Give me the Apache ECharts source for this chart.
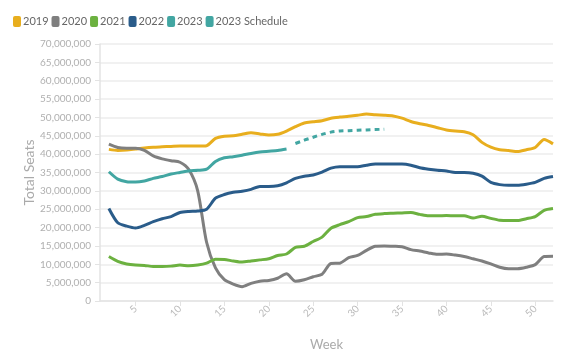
<!DOCTYPE html>
<html>
<head>
<meta charset="utf-8">
<script src="https://cdn.jsdelivr.net/npm/echarts@6/dist/echarts.min.js"></script>
<style>html,body{margin:0;padding:0;background:#fff}#c{width:567px;height:356px}</style>
</head>
<body>
<div id="c"></div>
<script>
// Weeks 1..52 (category axis)
const weeks = Array.from({length: 52}, (_, i) => String(i + 1));
// Values in millions of seats, starting at week 2
const firstWeek = 2;
const s2019 = [41.3,41.0,41.1,41.4,41.7,41.9,42.0,42.1,42.2,42.2,42.2,42.3,44.3,44.9,45.0,45.4,45.8,45.5,45.2,45.4,46.3,47.5,48.5,48.8,49.1,49.8,50.1,50.3,50.6,50.9,50.7,50.6,50.4,49.8,48.9,48.3,47.8,47.2,46.6,46.3,46.1,45.3,43.2,41.9,41.2,41.0,40.7,41.2,41.8,44.0,42.8];
const s2020 = [42.7,41.8,41.6,41.6,41.0,39.5,38.7,38.2,37.8,35.8,30.0,16.0,9.0,5.8,4.6,3.9,4.8,5.4,5.6,6.2,7.4,5.4,5.8,6.6,7.3,10.2,10.3,11.8,12.4,13.8,14.9,15.0,14.9,14.8,14.0,13.6,13.1,12.7,12.8,12.5,12.1,11.5,10.9,10.1,9.2,8.8,8.8,9.2,9.9,12.1,12.2];
const s2021 = [12.1,10.8,10.1,9.8,9.7,9.4,9.4,9.5,9.8,9.6,9.8,10.3,11.4,11.3,10.9,10.6,10.9,11.2,11.5,12.4,12.8,14.6,14.9,16.2,17.4,19.8,20.8,21.6,22.7,23.0,23.6,23.8,23.9,24.0,24.1,23.6,23.2,23.2,23.3,23.2,23.2,22.6,23.1,22.5,22.0,21.9,21.9,22.4,23.0,24.7,25.2];
const s2022 = [25.2,21.3,20.4,19.9,20.6,21.6,22.4,23.0,24.1,24.4,24.5,25.0,28.0,29.0,29.6,29.9,30.4,31.2,31.2,31.4,32.2,33.4,34.0,34.3,35.1,36.2,36.6,36.6,36.6,37.0,37.3,37.3,37.3,37.3,37.0,36.3,35.9,35.6,35.4,35.0,35.0,34.8,34.0,32.3,31.7,31.5,31.5,31.8,32.3,33.4,33.9];
const s2023 = [35.2,33.2,32.5,32.4,32.7,33.4,33.9,34.6,35.0,35.4,35.6,35.9,38.0,39.0,39.3,39.7,40.2,40.6,40.8,41.0,41.4];
// 2023 schedule, starting at week 23
const schedFirstWeek = 23;
const s2023Sched = [42.9,43.8,44.6,45.4,46.0,46.3,46.4,46.5,46.6,46.7,46.8];

const names = ['2019','2020','2021','2022','2023','2023 Schedule'];
const colors = ['#E8AE1E','#7F7F7F','#6CB140','#2A5C8A','#42A6A2','#42A6A2'];

function toData(arr, start) {
  const out = weeks.map(() => null);
  arr.forEach((v, i) => { out[start - 1 + i] = v * 1e6; });
  return out;
}
const seriesVals = [
  toData(s2019, firstWeek), toData(s2020, firstWeek), toData(s2021, firstWeek),
  toData(s2022, firstWeek), toData(s2023, firstWeek), toData(s2023Sched, schedFirstWeek)
];

const font = 'Lato';
const chart = echarts.init(document.getElementById('c'));
chart.setOption({
  animation: false,
  textStyle: {fontFamily: font},
  color: colors,
  legend: {
    left: 8, top: 11,
    icon: 'roundRect', itemWidth: 8, itemHeight: 11, itemGap: 3,
    textStyle: {fontFamily: font, fontSize: 11, color: '#666', padding: [0,0,0,-3]},
    data: names
  },
  grid: {left: 100, right: 14, top: 44, bottom: 55, containLabel: false},
  xAxis: {
    type: 'category', data: weeks, boundaryGap: false,
    name: 'Week', nameLocation: 'middle', nameGap: 37,
    nameTextStyle: {fontFamily: font, fontSize: 13, color: '#aaa'},
    axisLine: {lineStyle: {color: '#e3e3e3', width: 1.5}},
    axisTick: {show: true, length: 5, interval: (i, v) => Number(v) % 5 === 0, lineStyle: {color: '#e3e3e3'}},
    axisLabel: {interval: (i, v) => Number(v) % 5 === 0, rotate: 45, fontSize: 10, color: '#bbb', margin: 6},
    splitLine: {show: false}
  },
  yAxis: {
    type: 'value', min: 0, max: 70000000, interval: 5000000,
    name: 'Total Seats', nameLocation: 'middle', nameGap: 64, nameMoveOverlap: false,
    nameTextStyle: {fontFamily: font, fontSize: 14, color: '#aaa'},
    axisLine: {show: true, lineStyle: {color: '#e3e3e3', width: 1.5}},
    axisTick: {show: true, length: 5, lineStyle: {color: '#e3e3e3'}},
    axisLabel: {fontSize: 10, color: '#b0b0b0', margin: 9,
      formatter: v => v.toLocaleString('en-US')},
    splitLine: {lineStyle: {color: '#ececec', width: 1.5}}
  },
  series: names.map((n, i) => ({
    name: n, type: 'line', data: seriesVals[i], symbol: 'none', smooth: 0.25,
    connectNulls: false,
    lineStyle: {width: 3, color: colors[i], type: i === 5 ? [5, 4] : 'solid', cap: 'butt'},
    itemStyle: {color: colors[i]}
  }))
});
</script>
</body>
</html>
